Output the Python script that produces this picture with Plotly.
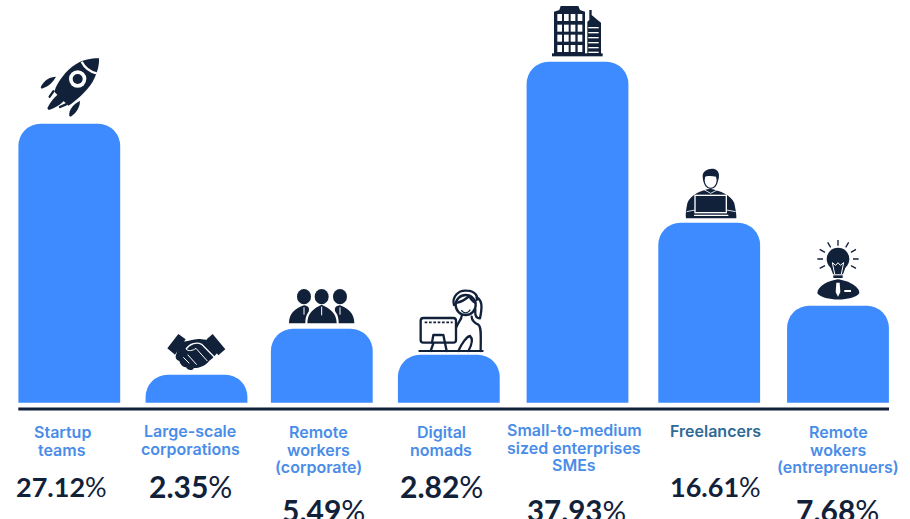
import base64
import plotly.graph_objects as go

# ---- data ----
categories = ["Startup teams", "Large-scale corporations", "Remote workers (corporate)", "Digital nomads",
              "Small-to-medium sized enterprises SMEs", "Freelancers", "Remote wokers (entreprenuers)"]
label_lines = [["Startup", "teams"], ["Large-scale", "corporations"], ["Remote", "workers", "(corporate)"],
               ["Digital", "nomads"], ["Small-to-medium", "sized enterprises", "SMEs"], ["Freelancers"],
               ["Remote", "wokers", "(entreprenuers)"]]
shares = ["27.12", "2.35", "5.49", "2.82", "37.93", "16.61", "7.68"]
# Drawn bar heights (the original graphic is not to scale)
bar_heights = [279, 28, 74, 48, 341, 180, 97]

# ---- layout constants (pixels on the 910x519 canvas) ----
W, H = 910, 519
BASE = 402.8
bar_centres = [69.3, 196.5, 321.8, 448.8, 577.5, 709.2, 838.0]
BAR_W = 101.8
label_x = [62, 190, 318, 441, 574, 715, 838]
label_y0 = [432, 431, 432, 432, 430, 431, 432]
value_x = [61, 190, 323, 441, 576, 715, 837]
value_y = [486, 486, 510, 486, 510, 486, 510]
value_sizes = [27, 30, 30, 30, 29.5, 27, 30]
label_colors = ["#4a8de8"] * 5 + ["#2f6a94"] + ["#4a8de8"]
NAVY = "#12213a"
FONT = "Inter"


def py(p):
    return BASE - p


fig = go.Figure(go.Bar(x=bar_centres, y=bar_heights, width=BAR_W, marker=dict(color="#3e8bff", cornerradius=22, line_width=0),
                       hoverinfo="text", hovertext=categories))

for lines, x, y0, c in zip(label_lines, label_x, label_y0, label_colors):
    for i, t in enumerate(lines):
        fig.add_annotation(x=x, y=py(y0 + i * 17.5), text=t, showarrow=False,
                           font=dict(family=FONT, size=16, color=c, weight=600), xanchor="center", yanchor="middle")
for s, x, y, fs in zip(shares, value_x, value_y, value_sizes):
    fig.add_annotation(x=x, y=py(y), text=f"<b>{s}</b>%", showarrow=False,
                       font=dict(family="Lato", size=fs, color=NAVY), xanchor="center", yanchor="middle")

fig.add_shape(type="line", x0=18.3, x1=889, y0=py(409), y1=py(409), line=dict(color=NAVY, width=3))


def icon(body, crop_x, crop_y, x0, y0, w, h):
    """Place a drawing made in a 3x crop's coordinates (origin crop_x, crop_y) into the box x0,y0,w,h."""
    vx, vy = (x0 - crop_x) * 3, (y0 - crop_y) * 3
    svg = (f'<svg xmlns="http://www.w3.org/2000/svg" width="{w*3}" height="{h*3}" viewBox="{vx} {vy} {w*3} {h*3}">'
           f'<g fill="{NAVY}" stroke="none">{body}</g></svg>')
    src = "data:image/svg+xml;base64," + base64.b64encode(svg.encode()).decode()
    fig.add_layout_image(source=src, xref="paper", yref="paper", x=x0 / W, y=1 - y0 / H, sizex=w / W, sizey=h / H,
                         xanchor="left", yanchor="top", sizing="stretch", layer="above")


WS = 'stroke="#fff" fill="none"'
NS = f'stroke="{NAVY}" fill="none"'

rocket = f'''
<path d="M297 55 C265 55 235 62 205 90 C180 115 167 140 163 155 L205 197 C225 185 262 152 278 125 C293 97 298 75 297 55Z"/>
<path d="M245 65 C255 85 270 95 290 100" {WS} stroke-width="7"/>
<circle cx="233" cy="117" r="26" fill="#fff"/><circle cx="233" cy="117" r="15"/>
<path d="M122 142 C130 122 150 110 168 110 C160 125 145 140 125 146Z"/>
<path d="M208 228 C205 210 220 192 240 183 C240 202 228 220 212 230Z"/>
<path d="M142 205 C150 185 168 165 182 158 L197 177 C185 192 165 205 146 210Z"/>
<path d="M149 170 L160 154" {NS} stroke-width="7" stroke-linecap="round"/>
<path d="M180 201 L198 193" {NS} stroke-width="7" stroke-linecap="round"/>
'''
icon(rocket, 0, 40, 30, 50, 80, 75)

hands = f'''
<path d="M52 205 L85 162 L107 178 L75 224Z"/><path d="M188 162 L226 208 L205 226 L170 178Z"/>
<path d="M92 182 C110 190 125 175 150 177 C165 180 175 178 180 183 L202 218 C195 225 190 235 178 242 C168 255 150 265 132 264
C125 275 112 270 108 262 C95 260 90 250 88 243 C78 240 75 232 78 225Z"/>
<path d="M108 207 C120 190 140 185 155 193 L198 236" {WS} stroke-width="4"/>
<path d="M108 207 C115 215 128 212 138 205 L172 243" {WS} stroke-width="3"/>
<path d="M100 232 L118 250 M113 224 L140 254" {WS} stroke-width="3"/>
'''
icon(hands, 150, 280, 160, 325, 75, 55)

people = f'''
<ellipse cx="462" cy="50" rx="21" ry="23"/><ellipse cx="515" cy="50" rx="21" ry="23"/><ellipse cx="570" cy="50" rx="21" ry="23"/>
<path d="M417 130 C417 100 435 85 462 76 C475 78 480 84 476 95 C468 105 466 115 466 130Z"/>
<path d="M613 130 C613 100 595 85 570 76 C557 78 552 84 556 95 C564 105 566 115 566 130Z"/>
<path d="M472 130 C472 100 490 85 515 74 C540 85 560 100 560 130Z"/>
<path d="M515 80 V106 M462 82 V104 M570 82 V104" {WS} stroke-width="3"/>
'''
icon(people, 150, 280, 285, 285, 75, 43)

nomad = f'''
<g fill="none" stroke="{NAVY}" stroke-width="7" stroke-linejoin="round" stroke-linecap="round">
<rect x="812" y="114" width="106" height="74" rx="8"/>
<path d="M850 190 L842 213 M875 165 H850 L846 188 M880 165 L890 213"/>
<path d="M808 213 H998" stroke-width="6"/>
<circle cx="947" cy="75" r="30"/>
<path d="M922 68 C935 65 950 55 958 48 C962 58 970 65 976 68"/>
<path d="M912 75 C905 50 925 30 950 32 C975 32 985 50 980 60"/>
<path d="M980 52 C1000 62 995 90 990 115 C975 115 975 100 976 88"/>
<path d="M935 92 C942 102 955 100 960 90" stroke-width="4"/>
<path d="M920 140 C925 125 935 118 935 108 M965 110 C965 120 975 130 985 134 C995 140 992 170 992 213"/>
<path d="M925 213 C935 190 950 170 960 168 C968 175 968 190 955 213"/>
</g>
<path d="M824 127 H908" stroke="{NAVY}" stroke-width="5" stroke-dasharray="8 5" fill="none"/>
'''
icon(nomad, 150, 280, 415, 285, 75, 72)

building = '''<path d="M72 162 V35 L88 30 L92 18 H145 L150 30 L165 35 V162Z"/>
<path d="M172 162 V65 L178 60 V30 H185 V45 L200 58 L213 68 V162Z"/>
<rect x="66" y="160" width="152" height="9"/>
'''
for wy in (42, 74, 104, 135):
    for wx in (82, 102, 122, 143):
        building += f'<rect x="{wx}" y="{wy}" width="14" height="21" fill="#fff"/>'
for ly in (81, 96, 111, 126, 141, 155):
    building += f'<rect x="175" y="{ly}" width="31" height="4" fill="#fff"/>'
icon(building, 530, 0, 545, 0, 70, 60)

freelancer = f'''
<path d="M48 175 C46 165 48 150 52 130 C60 105 90 92 120 86 C150 92 185 105 193 130 C197 150 200 165 199 175Z"/>
<ellipse cx="122" cy="60" rx="20" ry="25" fill="#fff" stroke="{NAVY}" stroke-width="4"/>
<path d="M98 48 C97 25 145 15 147 45 C147 55 145 60 143 66 L139 50 C125 47 110 47 104 50 L101 66 C99 60 98 55 98 48Z"/>
<path d="M100 88 L122 100 L145 88" {WS} stroke-width="2.5"/>
<rect x="75" y="106" width="94" height="52" fill="{NAVY}" stroke="#fff" stroke-width="4"/>
<path d="M72 166 H175" {WS} stroke-width="4"/>
<path d="M50 155 L75 150 M197 155 L170 150" {WS} stroke-width="2.5"/>
'''
icon(freelancer, 670, 160, 680, 162, 62, 60)

bulb = f'''
<circle cx="504" cy="297" r="34"/>
<path d="M480 318 L489 343 H519 L528 318Z"/>
<rect x="490" y="346" width="28" height="8"/>
<path d="M494 342 L487 308 L497 316 L504 308 L511 316 L521 308 L514 342" {WS} stroke-width="3"/>
<path d="M504 240 V257 M473 247 L482 262 M536 247 L527 262 M449 268 L465 277 M558 268 L543 277 M442 297 H459 M566 297 H549 M449 325 L465 317 M558 325 L543 317"
 {NS} stroke-width="4"/>
<path d="M442 400 C442 378 475 362 504 358 C533 362 568 378 568 400 C550 425 460 425 442 400Z"/>
<path d="M499 368 H509 L511 396 L504 410 L497 396Z" fill="#fff"/>
<rect x="523" y="390" width="20" height="6" fill="#fff"/>
'''
icon(bulb, 670, 160, 812, 236, 52, 68)

fig.update_layout(
    width=W, height=H, margin=dict(l=0, r=0, t=0, b=0), showlegend=False,
    paper_bgcolor="white", plot_bgcolor="white",
    xaxis=dict(range=[0, W], visible=False, fixedrange=True),
    yaxis=dict(range=[BASE - H, BASE], visible=False, fixedrange=True),
)
fig.write_html("out.html", config=dict(displayModeBar=False),
               post_script="document.body.style.margin='0';document.body.style.overflow='hidden';")
